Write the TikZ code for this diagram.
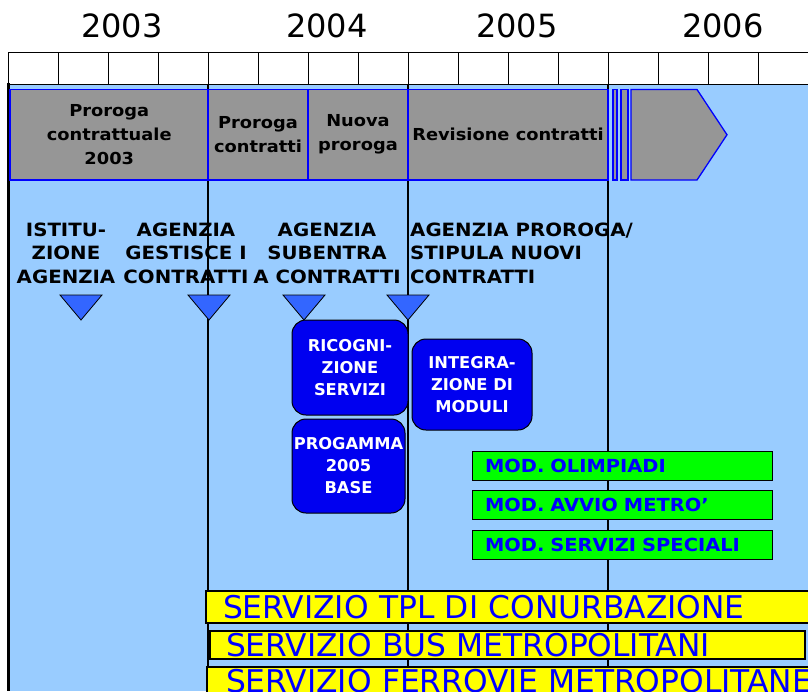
\documentclass[tikz,border=0pt]{standalone}
\usepackage{fontspec}
\setmainfont{DejaVu Sans}
\newfontfamily\widefont[FakeStretch=1.08]{DejaVu Sans}
\definecolor{bgblue}{HTML}{99CCFF}
\definecolor{bandgrey}{HTML}{969696}
\definecolor{trifill}{HTML}{3366FF}
\definecolor{boxblue}{HTML}{0000F0}
\definecolor{txtblue}{HTML}{0000FF}
\definecolor{modgreen}{HTML}{00FF00}
\definecolor{servyellow}{HTML}{FFFF00}
\newcommand\fsz[2]{\fontsize{#1}{#2}\selectfont}
\begin{document}
\begin{tikzpicture}[x=1pt,y=-1pt,
  cell/.style={draw=black, fill=white, line width=1pt},
  yearlbl/.style={font=\fsz{32}{34}, inner sep=0},
  gridline/.style={draw=black, line width=1.1pt},
  band/.style={draw=blue, fill=bandgrey, line width=1.3pt, minimum height=90.5pt, inner sep=0pt,
    font=\widefont\fsz{16.5}{24}\bfseries, align=center},
  bandpiece/.style={draw=blue, fill=bandgrey, line width=1.3pt},
  mile/.style={font=\widefont\fsz{18.3}{23.5}\bfseries, align=center, inner sep=0pt},
  marker/.style={fill=trifill, draw=black, line width=0.8pt, line join=miter},
  rbox/.style={draw=black, fill=boxblue, text=white, rounded corners=14pt, line width=1pt,
    inner sep=0pt, font=\fsz{16.3}{22}\bfseries, align=center},
  modbox/.style={draw=black, fill=modgreen, text=txtblue, line width=1pt, inner ysep=0pt,
    inner xsep=13pt, text width=274pt, minimum height=29pt, align=left, font=\widefont\fsz{18}{20}\bfseries},
  serv/.style={draw=black, fill=servyellow, text=txtblue, line width=1.2pt, inner ysep=0pt,
    align=left, font=\fsz{31.3}{32}}
]
\clip (0,0) rectangle (808,691);
\fill[white] (0,0) rectangle (808,691);
% background
\fill[bgblue] (8,84) rectangle (808,691);
% header cells
\foreach \i in {0,...,15} \draw[cell] ({8+50*\i},52) rectangle ++(50,32);
% years
\node[yearlbl] (y3) at (122,25.5) {2003};
\node[yearlbl] (y4) at (327,25.5) {2004};
\node[yearlbl] (y5) at (517,25.5) {2005};
\node[yearlbl] (y6) at (723,25.5) {2006};
% year lines
\foreach \xx in {208,408,608} \draw[gridline] (\xx,84) -- (\xx,691);
\draw[black, line width=2.5pt] (8.5,83) -- (8.5,691);
% grey band
\node[band, minimum width=198.5pt] (b1) at (109.25,134.75) {Proroga\\contrattuale\\2003};
\node[band, minimum width=100pt] (b2) at (258,134.75) {Proroga\\contratti};
\node[band, minimum width=100pt] (b3) at (358,134.75) {Nuova\\proroga};
\node[band, minimum width=200pt] (b4) at (508,134.75) {Revisione contratti};
\draw[bandpiece] (613,89.5) rectangle (617,180);
\draw[bandpiece] (621,89.5) rectangle (628,180);
\draw[bandpiece] (631,89.5) -- (697,89.5) -- (727,134.75) -- (697,180) -- (631,180) -- cycle;
% milestones
\node[mile] (m1) at (66,253) {ISTITU-\\ZIONE\\AGENZIA};
\node[mile] (m2) at (186,253) {AGENZIA\\GESTISCE I\\CONTRATTI};
\node[mile] (m3) at (327,253) {AGENZIA\\SUBENTRA\\A CONTRATTI};
\node[mile, align=left, anchor=west] (m4) at (410,253) {AGENZIA PROROGA/\\STIPULA NUOVI\\CONTRATTI};
% markers
\foreach \c in {81,209,304,408} \draw[marker] ({\c-21},295) -- ({\c+21},295) -- (\c,320) -- cycle;
% rounded boxes
\node[rbox, minimum width=116pt, minimum height=95pt] (r1) at (350,367.5) {RICOGNI-\\ZIONE\\SERVIZI};
\node[rbox, minimum width=113pt, minimum height=94pt] (r2) at (348.5,466) {PROGAMMA\\2005\\BASE};
\node[rbox, minimum width=120pt, minimum height=91pt] (r3) at (472,384.5) {INTEGRA-\\ZIONE DI\\MODULI};
% green modules
\node[modbox] (g1) at (622,465.5) {MOD. OLIMPIADI};
\node[modbox] (g2) at (622,505) {MOD. AVVIO METRO’};
\node[modbox] (g3) at (622,544.5) {MOD. SERVIZI SPECIALI};
% yellow services
\node[serv, inner xsep=17pt, text width=572pt, minimum height=32pt] (s1) at (509,607) {\mbox{SERVIZIO TPL DI CONURBAZIONE}};
\node[serv, inner xsep=16pt, text width=563pt, minimum height=28pt] (s2) at (507.5,645) {\mbox{SERVIZIO BUS METROPOLITANI}};
\node[serv, inner xsep=19pt, text width=567pt, minimum height=28pt] (s3) at (509.5,681) {\mbox{SERVIZIO FERROVIE METROPOLITANE}};
\end{tikzpicture}
\end{document}
